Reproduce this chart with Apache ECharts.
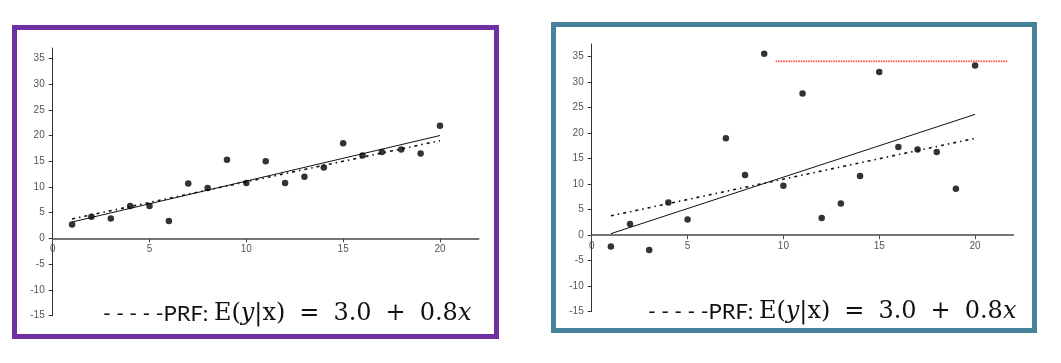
<!DOCTYPE html>
<html>
<head>
<meta charset="utf-8">
<script src="https://cdn.jsdelivr.net/npm/echarts@6/dist/echarts.min.js"></script>
<style>
html,body{margin:0;padding:0;background:#fff;}
#c{width:1061px;height:363px;}
</style>
</head>
<body>
<div id="c"></div>
<script>
// ---- data ----
const xValues = [1,2,3,4,5,6,7,8,9,10,11,12,13,14,15,16,17,18,19,20];
const leftY  = [2.7,4.2,3.9,6.3,6.3,3.4,10.7,9.8,15.3,10.8,15.0,10.8,12.0,13.8,18.5,16.1,16.8,17.3,16.5,21.9];
const rightY = [-2.2,2.2,-2.9,6.4,3.1,null,19.0,11.8,35.6,9.7,27.8,3.4,6.2,11.6,32.0,17.3,16.8,16.3,9.1,33.3];
const leftSRF  = [[1,3.2],[20,20.0]];
const rightSRF = [[1,0.3],[20,23.7]];
const prfLine  = [[1,3.8],[20,19.0]];
const squiggle = [[9.6,34.1],[21.7,34.1]];
const xTicks = [0,5,10,15,20];
const yTicks = [-15,-10,-5,0,5,10,15,20,25,30,35];
const labelText = ['- - - - -','PRF: ','E(','y','|x)','=','3.0','+','0.8','x'];

const pts = ys => xValues.map((x,i)=> ys[i]==null ? null : [x, ys[i]]).filter(Boolean);

const chart = echarts.init(document.getElementById('c'), null, {renderer:'canvas'});

const grids = [
  {left:52.7, top:48, width:426, height:267.7, ymin:-15, ymax:37},
  {left:591.7, top:44, width:421.7, height:267.7, ymin:-15, ymax:37.5}
];

function xAxis(gi){
  const g = grids[gi];
  // place the x axis at y = 0 (distance of zero from the bottom of the grid)
  const zeroOffset = -(0 - g.ymin) * g.height / (g.ymax - g.ymin);
  return {
    gridIndex: gi, type:'value', min:0, max:22, position:'bottom', offset: zeroOffset,
    axisLine:{onZero:false, lineStyle:{color:'#4a4a4a', width:1.6}},
    axisTick:{show:true, length:4, customValues:xTicks, lineStyle:{color:'#4a4a4a'}},
    axisLabel:{customValues:xTicks, color:'#555', fontSize:10, fontFamily:'Liberation Sans', margin:6},
    splitLine:{show:false}
  };
}
function yAxis(gi){
  const g = grids[gi];
  return {
    gridIndex: gi, type:'value', min:g.ymin, max:g.ymax,
    axisLine:{show:true, onZero:false, lineStyle:{color:'#333', width:1}},
    axisTick:{show:true, length:4, customValues:yTicks, lineStyle:{color:'#333'}},
    axisLabel:{customValues:yTicks, color:'#555', fontSize:10, fontFamily:'Liberation Sans', margin:8},
    splitLine:{show:false}
  };
}
const prfStyle = {color:'#111', width:1.6, type:[3,4,1.5,4]};
function richLabel(){
  return {
    text: '{d|'+labelText[0]+'}{p|'+labelText[1]+'}{m|'+labelText[2]+'}{i|'+labelText[3]+'}{m|'+labelText[4]+'}{op|'+labelText[5]+'}{m|'+labelText[6]+'}{op|'+labelText[7]+'}{m|'+labelText[8]+'}{i|'+labelText[9]+'}',
    fill:'#111',
    verticalAlign:'middle',
    rich:{
      d:{fontFamily:'Lato', fontSize:21, fill:'#111'},
      p:{fontFamily:'Lato', fontSize:22, fill:'#111'},
      m:{fontFamily:'DejaVu Serif', fontSize:24, fill:'#111'},
      i:{fontFamily:'DejaVu Serif', fontStyle:'italic', fontSize:24, fill:'#111'},
      op:{fontFamily:'DejaVu Serif', fontSize:24, fill:'#111', padding:[0,14,0,14]}
    }
  };
}

chart.setOption({
  animation:false,
  backgroundColor:'#fff',
  grid: grids.map(g => ({left:g.left, top:g.top, width:g.width, height:g.height})),
  xAxis:[xAxis(0), xAxis(1)],
  yAxis:[yAxis(0), yAxis(1)],
  series:[
    {type:'line', xAxisIndex:0, yAxisIndex:0, data:leftSRF, symbol:'none', lineStyle:{color:'#111', width:1}, z:2},
    {type:'line', xAxisIndex:0, yAxisIndex:0, data:prfLine, symbol:'none', lineStyle:prfStyle, z:2},
    {type:'scatter', xAxisIndex:0, yAxisIndex:0, data:pts(leftY), symbol:'circle', symbolSize:6.5, itemStyle:{color:'#000'}, z:3},
    {type:'line', xAxisIndex:1, yAxisIndex:1, data:rightSRF, symbol:'none', lineStyle:{color:'#111', width:1}, z:2},
    {type:'line', xAxisIndex:1, yAxisIndex:1, data:prfLine, symbol:'none', lineStyle:prfStyle, z:2},
    {type:'line', xAxisIndex:1, yAxisIndex:1, data:squiggle, symbol:'none', lineStyle:{color:'#ff5a5a', width:2, type:[1.5,1]}, z:2},
    {type:'scatter', xAxisIndex:1, yAxisIndex:1, data:pts(rightY), symbol:'circle', symbolSize:6.5, itemStyle:{color:'#000'}, z:3}
  ],
  graphic:[
    {type:'rect', shape:{x:14.5, y:27.5, width:482, height:309}, style:{fill:'none', stroke:'#7030a0', lineWidth:5}, z:10},
    {type:'rect', shape:{x:553.5, y:24.5, width:481, height:306}, style:{fill:'none', stroke:'#47829b', lineWidth:5}, z:10},
    {type:'text', x:103, y:314, style:richLabel(), z:11},
    {type:'text', x:648, y:312, style:richLabel(), z:11}
  ]
});
</script>
</body>
</html>
